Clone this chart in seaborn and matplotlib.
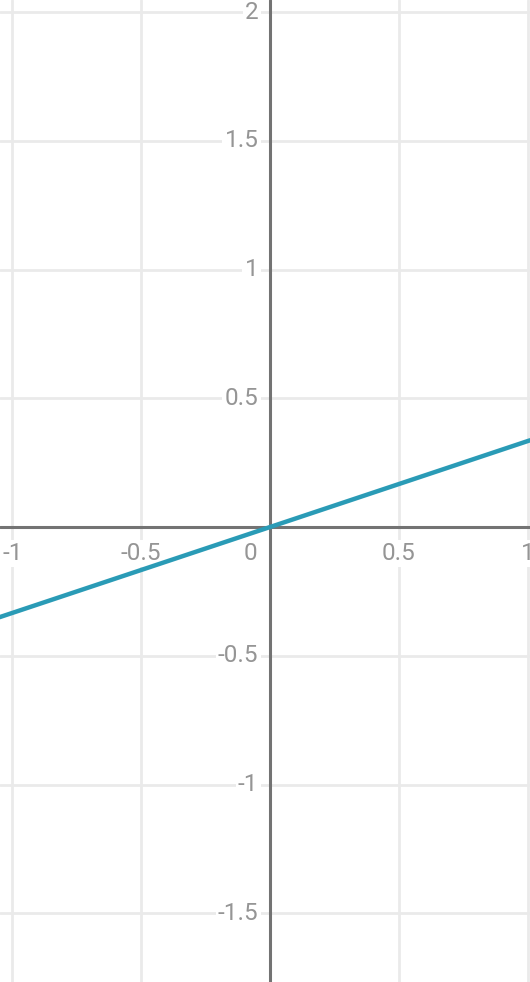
import matplotlib
matplotlib.use("Agg")
import matplotlib.pyplot as plt
import seaborn as sns
import pandas as pd
import numpy as np

# data
line_x = [-1.05, 0.0, 1.01]
line_y = [-0.35, 0.0, 0.337]
x_ticks = [-1, -0.5, 0.5, 1]
x_tick_labels = ["-1", "-0.5", "0.5", "1"]
y_ticks = [-1.5, -1, -0.5, 0.5, 1, 1.5, 2]
y_tick_labels = ["-1.5", "-1", "-0.5", "0.5", "1", "1.5", "2"]

sns.set_style("white")
plt.rcParams['font.family'] = ['Roboto', 'DejaVu Sans']

fig = plt.figure(figsize=(5.30, 9.82), dpi=100)
ax = fig.add_axes([0, 0, 1, 1])
XMIN, XMAX = -1.0485, 1.0097
YMIN, YMAX = -1.767, 2.047
ax.set_xlim(XMIN, XMAX)
ax.set_ylim(YMIN, YMAX)
for s in ax.spines.values():
    s.set_visible(False)
ax.set_xticks([])
ax.set_yticks([])

grid_c = "#eaeaea"
for v in x_ticks:
    ax.axvline(v, color=grid_c, lw=2, zorder=0)
for v in y_ticks:
    ax.axhline(v, color=grid_c, lw=2, zorder=0)

ax.axvline(0, color="#737373", lw=2.2, zorder=3)
ax.axhline(0, color="#737373", lw=2.2, zorder=3)

df = pd.DataFrame({"x": line_x, "y": line_y})
sns.lineplot(data=df, x="x", y="y", ax=ax, color="#2a9bb6", lw=3.2, zorder=4, sort=False)
ax.set_xlabel("")
ax.set_ylabel("")

lab_c = "#959595"
fs = 17.5
bbox = dict(facecolor="white", edgecolor="none", pad=1.5)
for v, t in zip(x_ticks, x_tick_labels):
    ax.text(v, -0.103, t, ha="center", va="center", fontsize=fs, color=lab_c, bbox=bbox, zorder=2)
ax.text(-0.077, -0.103, "0", ha="center", va="center", fontsize=fs, color=lab_c, zorder=2)
for v, t in zip(y_ticks, y_tick_labels):
    ax.text(-0.045, v, t, ha="right", va="center", fontsize=fs, color=lab_c, bbox=bbox, zorder=2)

fig.savefig("out.png", dpi=100)
